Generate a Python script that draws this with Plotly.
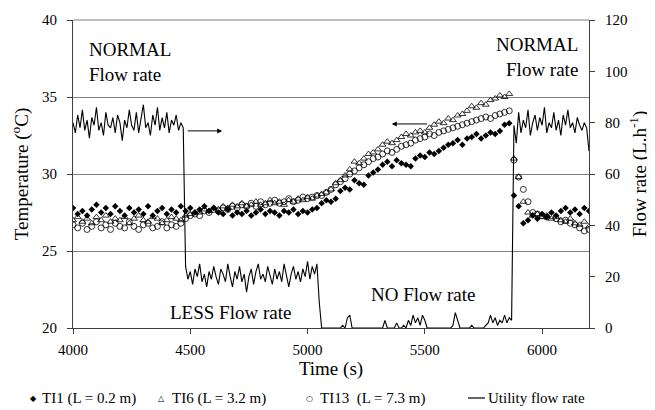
import plotly.graph_objects as go

# ---------------- data ----------------
temp_time = list(range(4000, 6201, 20))   # s
flow_time = list(range(4000, 6201, 10))   # s

ti1 = [
    27.8, 27.4, 27.6, 27.3, 27.7, 28.0, 27.5, 27.8, 27.4, 27.9, 27.6, 27.3,
    27.8, 27.5, 27.7, 27.4, 27.9, 27.3, 27.6, 27.8, 27.4, 27.7, 27.5, 27.9,
    27.6, 27.8, 27.5, 27.7, 27.9, 27.6, 27.8, 27.5, 27.4, 27.7, 27.3, 27.5,
    27.4, 27.6, 27.3, 27.5, 27.7, 27.4, 27.6, 27.5, 27.3, 27.6, 27.5, 27.7,
    27.4, 27.6, 27.5, 27.7, 27.8,
    28.1, 28.3, 28.2, 28.4, 28.9, 29.1, 29.0, 29.6, 29.4, 29.3,
    29.9, 30.1, 30.3, 30.6, 30.8, 30.5, 30.9, 30.7, 30.6, 30.5,
    31.0, 31.2, 31.1, 31.4, 31.3, 31.5, 31.7, 31.9, 32.0, 32.2,
    31.9, 32.3, 32.4, 32.6, 32.3, 32.5, 32.7, 32.6, 32.8, 33.2, 33.3,
    28.6, 27.9, 26.8, 27.0, 27.3, 27.1, 27.4, 27.2, 27.5, 27.3, 27.6, 27.8,
    27.5, 27.7, 27.4, 27.8, 27.6,
]

ti6 = [
    27.0, 27.2, 26.9, 27.1, 26.8, 27.2, 27.0, 27.3, 26.9, 27.1, 27.0, 27.2,
    26.8, 27.1, 27.3, 27.0, 26.9, 27.2, 27.1, 26.8, 27.0, 27.2, 27.1, 27.0,
    27.3, 27.4, 27.5, 27.5, 27.7, 27.6, 27.8, 27.7, 27.9, 27.8, 28.0, 27.9,
    28.1, 27.9, 28.0, 28.2, 28.0, 28.1, 28.3, 28.1, 28.2, 28.0, 28.3, 28.2,
    28.4, 28.3, 28.5, 28.4, 28.6,
    28.7, 28.8, 29.0, 29.4, 29.6, 29.9, 30.3, 30.8, 30.7, 31.0,
    31.3, 31.4, 31.6, 31.9, 32.1, 32.0, 32.2, 32.4, 32.6, 32.5,
    32.7, 32.8, 32.7, 33.0, 33.2, 33.4, 33.3, 33.6, 33.5, 33.8,
    33.9, 34.1, 34.4, 34.3, 34.6, 34.5, 34.8, 34.9, 35.1, 35.0, 35.2,
    31.0, 29.8, 28.2, 27.5, 27.3, 27.4, 27.2, 27.3, 27.1, 27.2, 27.0, 26.9,
    27.1, 26.8, 26.7, 26.9, 26.6,
]

ti13 = [
    26.7, 26.5, 26.8, 26.4, 26.6, 26.9, 26.5, 26.7, 26.4, 26.8, 26.6, 26.5,
    26.9, 26.6, 26.4, 26.7, 26.8, 26.5, 26.6, 26.9, 26.5, 26.7, 26.6, 26.8,
    27.1, 27.3, 27.4, 27.3, 27.6, 27.5, 27.7, 27.6, 27.8, 27.7, 27.9, 27.8,
    28.0, 27.9, 28.1, 27.9, 28.2, 28.0, 28.1, 28.3, 28.1, 28.2, 28.4, 28.2,
    28.3, 28.5, 28.4, 28.5, 28.6,
    28.6, 28.8, 29.0, 29.3, 29.5, 29.7, 30.0, 30.2, 30.4, 30.6,
    30.8, 31.0, 31.1, 31.3, 31.5, 31.4, 31.6, 31.8, 31.9, 32.0,
    32.2, 32.3, 32.4, 32.6, 32.5, 32.7, 32.8, 32.9, 33.0, 33.1,
    33.2, 33.3, 33.4, 33.5, 33.6, 33.7, 33.6, 33.8, 33.9, 34.0, 34.1,
    30.9, 29.8, 29.0, 28.2, 27.5, 27.4, 27.3, 27.2, 27.3, 27.1, 26.9, 27.0,
    26.8, 26.7, 26.5, 26.3, 26.4,
]

flow = [
    # 4000-4460 normal
    80, 76, 83, 78, 85, 77, 81, 74, 82, 79,
    86, 77, 80, 75, 84, 79, 78, 82, 76, 83,
    80, 73, 81, 78, 85, 79, 77, 84, 76, 81,
    87, 78, 80, 75, 83, 79, 86, 77, 82, 78,
    84, 76, 81, 79, 83, 77, 80,
    78,
    # 4480-5040 less
    24, 19, 22, 17, 23, 20, 25, 18, 21, 16,
    22, 19, 24, 20, 17, 23, 21, 18, 25, 20,
    16, 22, 19, 24, 18, 21, 14, 20, 23, 17,
    22, 25, 19, 21, 18, 24, 20, 17, 23, 19,
    22, 18, 25, 20, 16, 21, 24, 19, 22, 18,
    23, 20, 26, 19, 24, 21, 25,
    10,
    # 5060-5870 no flow
    0, 0, 0, 0, 0, 0, 0, 0, 0, 1,
    0, 4, 5, 0, 0, 0, 0, 0, 0, 0,
    0, 0, 0, 0, 0, 0, 0, 3, 0, 0,
    0, 0, 2, 0, 0, 1, 0, 3, 1, 5,
    2, 4, 1, 5, 3, 0, 0, 0, 0, 0,
    0, 0, 0, 0, 0, 0, 1, 6, 3, 0,
    0, 0, 0, 0, 1, 0, 0, 0, 0, 0,
    1, 2, 5, 2, 4, 1, 3, 2, 5, 2,
    4, 3,
    # 5880-6200 normal
    79, 72, 84, 76, 81, 78, 85, 75, 80, 83,
    77, 82, 79, 86, 76, 80, 78, 84, 77, 81,
    75, 83, 79, 85, 78, 80, 76, 82, 79, 77,
    80, 78, 69,
]

x_ticks = [4000, 4500, 5000, 5500, 6000]
y_ticks = [20, 25, 30, 35, 40]
y2_ticks = [0, 20, 40, 60, 80, 100, 120]

series_names = ["TI1 (L = 0.2 m)", "TI6 (L = 3.2 m)",
                "TI13\u00a0 (L = 7.3 m)", "Utility flow rate"]

# ---------------- figure ----------------
FONT = "Liberation Serif"
GRID = "#808080"
AXIS = "#404040"

fig = go.Figure()

fig.add_trace(go.Scatter(
    x=temp_time, y=ti1, mode="markers", name=series_names[0],
    marker=dict(symbol="diamond", size=5, color="black"),
))
fig.add_trace(go.Scatter(
    x=temp_time, y=ti6, mode="markers", name=series_names[1],
    marker=dict(symbol="triangle-up-open", size=6, color="black",
                line=dict(width=0.8, color="black")),
))
fig.add_trace(go.Scatter(
    x=temp_time, y=ti13, mode="markers", name=series_names[2],
    marker=dict(symbol="circle-open", size=6, color="black",
                line=dict(width=0.8, color="black")),
))
fig.add_trace(go.Scatter(
    x=flow_time, y=flow, mode="lines", name=series_names[3],
    line=dict(color="black", width=1.1), yaxis="y2",
))

ann_font = dict(family=FONT, size=19, color="black")
annotations = [
    dict(x=4060, y=37.3, xref="x", yref="y", text="NORMAL<br>Flow rate",
         showarrow=False, xanchor="left", yanchor="middle", align="left",
         font=ann_font),
    dict(x=6160, y=37.6, xref="x", yref="y", text="NORMAL<br>Flow rate",
         showarrow=False, xanchor="right", yanchor="middle", align="right",
         font=ann_font),
    dict(x=4670, y=21.0, xref="x", yref="y", text="LESS Flow rate",
         showarrow=False, xanchor="center", yanchor="middle", font=ann_font),
    dict(x=5494, y=22.2, xref="x", yref="y", text="NO Flow rate",
         showarrow=False, xanchor="center", yanchor="middle", font=ann_font),
    # arrows
    dict(x=4636, y=32.8, ax=4483, ay=32.8, xref="x", yref="y",
         axref="x", ayref="y", text="", showarrow=True,
         arrowhead=2, arrowsize=1, arrowwidth=1, arrowcolor="black"),
    dict(x=5359, y=33.25, ax=5516, ay=33.25, xref="x", yref="y",
         axref="x", ayref="y", text="", showarrow=True,
         arrowhead=2, arrowsize=1, arrowwidth=1, arrowcolor="black"),
]

# ---- legend row drawn below the plot (paper coords) ----
PLOT_L, PLOT_W, PLOT_B, PLOT_H = 73, 516, 328, 308
def px_to_paper_x(px):
    return (px - PLOT_L) / PLOT_W
LEG_Y = (PLOT_B - 398) / PLOT_H
leg_font = dict(family=FONT, size=15, color="black")
sym_font = dict(family="DejaVu Sans", size=8, color="black")
legend_items = [
    ("\u25C6", 33, 40, series_names[0]),
    ("\u25B3", 161, 170, series_names[1]),
    ("\u25CB", 309, 318, series_names[2]),
]
for sym, sx, tx, label in legend_items:
    annotations.append(dict(x=px_to_paper_x(sx), y=LEG_Y, xref="paper",
                            yref="paper", text=sym, showarrow=False,
                            xanchor="center", yanchor="middle", font=sym_font))
    annotations.append(dict(x=px_to_paper_x(tx), y=LEG_Y, xref="paper",
                            yref="paper", text=label, showarrow=False,
                            xanchor="left", yanchor="middle", font=leg_font))
annotations.append(dict(x=px_to_paper_x(486), y=LEG_Y, xref="paper",
                        yref="paper", text=series_names[3], showarrow=False,
                        xanchor="left", yanchor="middle", font=leg_font))

shapes = [
    dict(type="line", xref="paper", yref="paper", x0=0, x1=1, y0=1, y1=1,
         line=dict(color=GRID, width=1)),
    dict(type="line", xref="paper", yref="paper",
         x0=px_to_paper_x(468), x1=px_to_paper_x(485), y0=LEG_Y, y1=LEG_Y,
         line=dict(color="black", width=1.2)),
]

# the page body has an 8px margin, so the figure is offset by 8px
fig.update_layout(
    width=647, height=402,
    margin=dict(l=65, r=66, t=12, b=82, autoexpand=False),
    paper_bgcolor="white", plot_bgcolor="white",
    font=dict(family=FONT, size=15, color="black"),
    showlegend=False,
    xaxis=dict(
        range=[4000, 6200], tickvals=x_ticks, ticks="outside", ticklen=5,
        tickcolor=AXIS, showline=True, linecolor=AXIS, linewidth=1,
        showgrid=False, zeroline=False, automargin=False,
        ticklabelstandoff=3,
        title=dict(text="Time (s)", font=dict(family=FONT, size=19), standoff=4),
    ),
    yaxis=dict(
        range=[20, 40], tickvals=y_ticks, ticks="outside", ticklen=5,
        tickcolor=AXIS, showline=True, linecolor=AXIS, linewidth=1,
        showgrid=True, gridcolor=GRID, gridwidth=1, zeroline=False,
        automargin=False, ticklabelstandoff=7,
        title=dict(text="Temperature (<sup>o</sup>C)",
                   font=dict(family=FONT, size=19), standoff=16),
    ),
    yaxis2=dict(
        range=[0, 120], tickvals=y2_ticks, ticks="outside", ticklen=5,
        tickcolor=AXIS, overlaying="y", side="right", showline=True,
        linecolor=AXIS, linewidth=1, showgrid=False, zeroline=False,
        automargin=False, ticklabelstandoff=7,
        title=dict(text="Flow rate (L.h<sup>-1</sup>)",
                   font=dict(family=FONT, size=19), standoff=6),
    ),
    annotations=annotations,
    shapes=shapes,
)

fig.write_html("out.html")
